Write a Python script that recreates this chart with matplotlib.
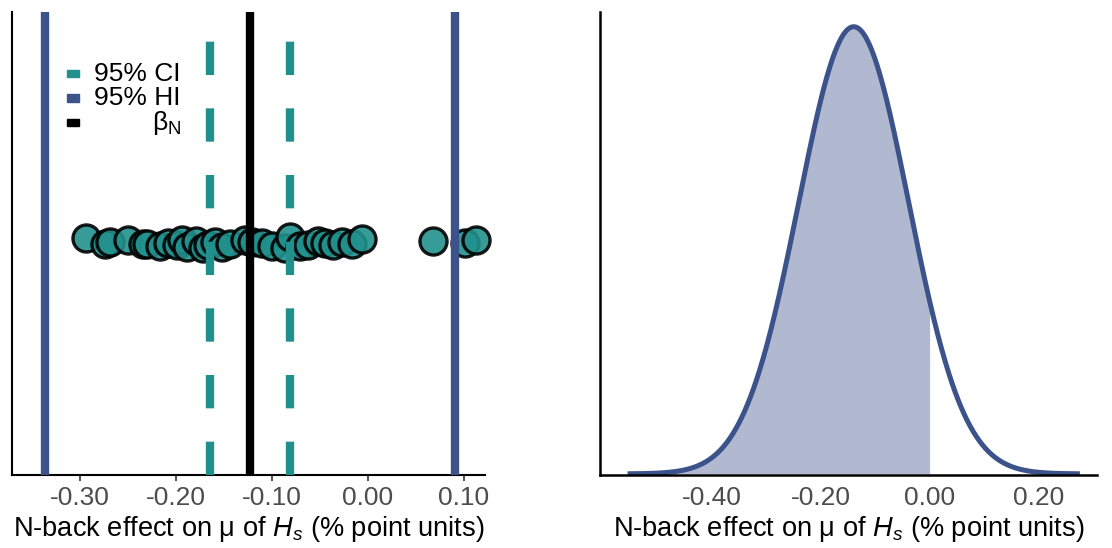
import numpy as np
import matplotlib.pyplot as plt
from matplotlib.patches import Rectangle

plt.rcParams['font.family'] = ['Liberation Sans', 'DejaVu Sans']
plt.rcParams['mathtext.fontset'] = 'custom'
plt.rcParams['mathtext.rm'] = 'Liberation Sans'
plt.rcParams['mathtext.it'] = 'Liberation Sans:italic'
plt.rcParams['font.size'] = 19

TEAL = '#21908C'
BLUE = '#3B528B'
TICK_GREY = '#4D4D4D'

# per-subject N-back effects (% point units) and vertical jitter
subj_effect = [-0.294, -0.274, -0.269, -0.250, -0.234, -0.230, -0.217, -0.208,
               -0.199, -0.194, -0.189, -0.179, -0.172, -0.167, -0.159, -0.152,
               -0.144, -0.128, -0.121, -0.110, -0.100, -0.086, -0.081, -0.071,
               -0.063, -0.052, -0.045, -0.036, -0.027, -0.017, -0.006,
               0.068, 0.101, 0.112]
subj_jitter = [0.010, -0.004, 0.002, 0.006, -0.004, -0.002, -0.008, 0.000,
               -0.006, 0.006, -0.010, 0.004, -0.012, -0.006, 0.002, -0.010,
               -0.004, 0.006, 0.002, 0.000, -0.008, -0.012, 0.012, -0.008,
               -0.006, 0.004, 0.000, -0.006, 0.002, -0.004, 0.008,
               0.004, 0.000, 0.006]
beta_n = -0.123
ci_95 = [-0.1645, -0.0813]
hi_95 = [-0.3365, 0.0906]

# posterior of the group effect
post_mean = -0.14
post_sd = 0.101
curve_lo, curve_hi = -0.555, 0.275
shade_hi = 0.0

xlabel = r'N-back effect on μ of $H_s$ (% point units)'

fig = plt.figure(figsize=(11.12, 5.48), dpi=100)

# ---------------- left: individual effects
ax1 = fig.add_axes([0.0108, 0.1332, 0.4254, 0.8449])
ax1.scatter(subj_effect, 0.502 + np.array(subj_jitter), s=380, color=TEAL,
            alpha=0.9, edgecolor='black', linewidth=2.4, zorder=2,
            clip_on=False)
for v in hi_95:
    ax1.axvline(v, color=BLUE, lw=6, zorder=3)
for v in ci_95:
    ax1.axvline(v, color=TEAL, lw=6, dashes=(4, 4), zorder=3)
ax1.axvline(beta_n, color='black', lw=6, zorder=3)
ax1.set_xlim(-0.3708, 0.1219)
ax1.set_ylim(0, 1)
ax1.set_xticks([-0.3, -0.2, -0.1, 0.0, 0.1])
ax1.set_xticklabels(['-0.30', '-0.20', '-0.10', '0.00', '0.10'])
ax1.set_yticks([])
ax1.tick_params(axis='x', colors='#333333', labelcolor=TICK_GREY,
                length=4, width=1.2, pad=4)
ax1.set_xlabel(xlabel, labelpad=3, fontsize=19.6)
for s in ['top', 'right']:
    ax1.spines[s].set_visible(False)
for s in ['left', 'bottom']:
    ax1.spines[s].set_linewidth(1.5)

# legend keys drawn by hand so the labels sit right-aligned
legend_items = [(TEAL, '95% CI'), (BLUE, '95% HI'), ('black', r'β$_\mathrm{N}$')]
for i, (c, lab) in enumerate(legend_items):
    yc = 0.867 - i * 0.053
    ax1.add_patch(Rectangle((0.116, yc - 0.008), 0.026, 0.016, color=c,
                            transform=ax1.transAxes, clip_on=False, zorder=4))
    ax1.text(0.357, yc, lab, transform=ax1.transAxes, ha='right',
             va='center', fontsize=19, zorder=4)

# ---------------- right: posterior density
ax2 = fig.add_axes([0.5396, 0.1332, 0.4469, 0.8449])
xs = np.linspace(curve_lo, curve_hi, 600)
dens = np.exp(-0.5 * ((xs - post_mean) / post_sd) ** 2) / (post_sd * np.sqrt(2 * np.pi))
ax2.fill_between(xs, 0, dens, where=xs <= shade_hi, color=BLUE, alpha=0.4,
                 linewidth=0)
ax2.plot(xs, dens, color=BLUE, lw=3.6, solid_capstyle='butt')
ax2.set_xlim(-0.6055, 0.3064)
ax2.set_ylim(-0.01, 4.08)
ax2.set_xticks([-0.4, -0.2, 0.0, 0.2])
ax2.set_xticklabels(['-0.40', '-0.20', '0.00', '0.20'])
ax2.set_yticks([])
ax2.tick_params(axis='x', labelcolor=TICK_GREY, length=0, pad=8)
ax2.set_xlabel(xlabel, labelpad=3, fontsize=19.6)
for s in ['top', 'right']:
    ax2.spines[s].set_visible(False)
for s in ['left', 'bottom']:
    ax2.spines[s].set_linewidth(1.8)

plt.savefig('out.png', dpi=100)
